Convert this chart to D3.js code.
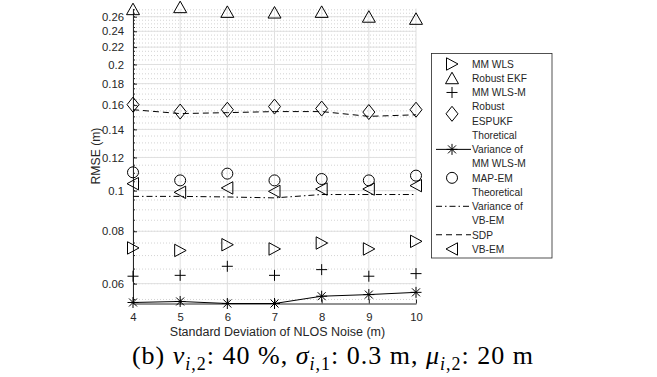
<!DOCTYPE html>
<html>
<head>
<meta charset="utf-8">
<script src="https://cdn.jsdelivr.net/npm/d3@7"></script>
<style>
  body { margin: 0; background: #fff; }
  text { font-family: "Liberation Sans", Arial, sans-serif; }
</style>
</head>
<body>
<div id="container"></div>
<script>
/* ---------- DATA ---------- */
const noiseStd = [4, 5, 6, 7, 8, 9, 10];
const mmWls = [0.0730, 0.0720, 0.0743, 0.0726, 0.0750, 0.0726, 0.0757];
const robustEkf = [0.271, 0.274, 0.267, 0.266, 0.267, 0.260, 0.257];
const mmWlsM = [0.0625, 0.0628, 0.0660, 0.0628, 0.0648, 0.0625, 0.0634];
const robustEspukf = [0.1604, 0.1544, 0.1560, 0.1587, 0.1570, 0.1540, 0.1560];
const theoMmWlsM = [0.0541, 0.0544, 0.0538, 0.0538, 0.0560, 0.0565, 0.0572];
const mapEm = [0.1106, 0.1058, 0.1098, 0.1058, 0.1066, 0.1058, 0.1086];
const theoVbEm = [0.0969, 0.0969, 0.0966, 0.0961, 0.0979, 0.0979, 0.0979];
const sdp = [0.1560, 0.1527, 0.1535, 0.1544, 0.1544, 0.1504, 0.1517];
const vbEm = [0.1039, 0.0991, 0.1015, 0.0996, 0.1009, 0.1009, 0.1028];

const yTicks = [0.06, 0.08, 0.1, 0.12, 0.14, 0.16, 0.18, 0.2, 0.22, 0.24, 0.26];
const xTicks = [4, 5, 6, 7, 8, 9, 10];

/* ---------- CONSTANTS ---------- */
const width = 657, height = 377;
const plot = { left: 133, right: 416, top: 8.5, bottom: 303.5 };
const axisColor = "#262626";

// series: legend label lines, marker, line style
const series = [
  { label: ["MM WLS"], values: mmWls, marker: "right", dash: null },
  { label: ["Robust EKF"], values: robustEkf, marker: "up", dash: null },
  { label: ["MM WLS-M"], values: mmWlsM, marker: "plus", dash: null },
  { label: ["Robust", "ESPUKF"], values: robustEspukf, marker: "diamond", dash: null },
  { label: ["Thoretical", "Variance of", "MM WLS-M"], values: theoMmWlsM, marker: "star", dash: "solid" },
  { label: ["MAP-EM"], values: mapEm, marker: "circle", dash: null },
  { label: ["Theoretical", "Variance of", "VB-EM"], values: theoVbEm, marker: null, dash: "6,3,1.5,3" },
  { label: ["SDP"], values: sdp, marker: null, dash: "6,4" },
  { label: ["VB-EM"], values: vbEm, marker: "left", dash: null }
];

/* ---------- MARKERS ---------- */
function markerPath(type) {
  switch (type) {
    case "up": return "M0,-6L6.5,5.5L-6.5,5.5Z";
    case "right": return "M-5.5,-6.2L6,0L-5.5,6.2Z";
    case "left": return "M5.5,-6.2L-6,0L5.5,6.2Z";
    case "plus": return "M-5.5,0H5.5M0,-5.5V5.5";
    case "diamond": return "M0,-7.5L6,0L0,7.5L-6,0Z";
    case "star": return "M-5.5,0H5.5M0,-5.5V5.5M-4,-4L4,4M-4,4L4,-4";
    case "circle": return "M5.5,0A5.5,5.5 0 1,1 -5.5,0A5.5,5.5 0 1,1 5.5,0Z";
  }
  return null;
}

/* ---------- SCALES ---------- */
const xScale = d3.scaleLinear().domain([4, 10]).range([plot.left, plot.right]);
const yScale = d3.scaleLog().domain([0.0538, 0.272]).range([plot.bottom, plot.top]);

const svg = d3.select("#container").append("svg")
  .attr("width", width)
  .attr("height", height);

/* ---------- GRID ---------- */
const minorTicks = d3.range(55, 275, 5).map(v => v / 1000);

svg.append("g")
  .selectAll("line")
  .data(minorTicks)
  .join("line")
  .attr("x1", plot.left).attr("x2", plot.right)
  .attr("y1", d => yScale(d)).attr("y2", d => yScale(d))
  .attr("stroke", "#c8c8c8")
  .attr("stroke-width", 0.8)
  .attr("stroke-dasharray", "1,2");

svg.append("g")
  .selectAll("line")
  .data(yTicks)
  .join("line")
  .attr("x1", plot.left).attr("x2", plot.right)
  .attr("y1", d => yScale(d)).attr("y2", d => yScale(d))
  .attr("stroke", "#e0e0e0")
  .attr("stroke-width", 1);

svg.append("g")
  .selectAll("line")
  .data(xTicks)
  .join("line")
  .attr("x1", d => xScale(d)).attr("x2", d => xScale(d))
  .attr("y1", plot.top).attr("y2", plot.bottom)
  .attr("stroke", "#e0e0e0")
  .attr("stroke-width", 1);

/* ---------- AXES ---------- */
const xAxis = d3.axisBottom(xScale)
  .tickValues(xTicks)
  .tickFormat(d3.format("d"))
  .tickSizeInner(-4)
  .tickSizeOuter(0)
  .tickPadding(9);

const yAxis = d3.axisLeft(yScale)
  .tickValues(yTicks)
  .tickFormat(d => String(d))
  .tickSizeInner(-4)
  .tickSizeOuter(0)
  .tickPadding(9);

const gx = svg.append("g")
  .attr("transform", `translate(0,${plot.bottom})`)
  .call(xAxis);

const gy = svg.append("g")
  .attr("transform", `translate(${plot.left},0)`)
  .call(yAxis);

// minor ticks on y axis
gy.append("g")
  .selectAll("line")
  .data(minorTicks)
  .join("line")
  .attr("x1", 0).attr("x2", 2)
  .attr("y1", d => yScale(d)).attr("y2", d => yScale(d))
  .attr("stroke", axisColor);

[gx, gy].forEach(g => {
  g.select(".domain").attr("stroke", axisColor).attr("stroke-width", 1);
  g.selectAll(".tick line").attr("stroke", axisColor);
  g.selectAll(".tick text")
    .attr("fill", axisColor)
    .style("font-size", "11.3px")
    .style("font-family", "Liberation Sans, Arial, sans-serif");
});

svg.append("text")
  .attr("x", (plot.left + plot.right) / 2 + 3)
  .attr("y", 336)
  .attr("text-anchor", "middle")
  .attr("fill", axisColor)
  .style("font-size", "12.5px")
  .text("Standard Deviation of NLOS Noise (m)");

svg.append("text")
  .attr("transform", `translate(100,${(plot.top + plot.bottom) / 2}) rotate(-90)`)
  .attr("text-anchor", "middle")
  .attr("fill", axisColor)
  .style("font-size", "12.2px")
  .text("RMSE (m)");

/* ---------- SERIES ---------- */
const line = d3.line()
  .x((d, i) => xScale(noiseStd[i]))
  .y(d => yScale(d));

series.filter(s => s.dash).forEach(s => {
  svg.append("path")
    .datum(s.values)
    .attr("d", line)
    .attr("fill", "none")
    .attr("stroke", "#000")
    .attr("stroke-width", 1)
    .attr("stroke-dasharray", s.dash === "solid" ? null : s.dash);
});

series.filter(s => s.marker).forEach(s => {
  svg.append("g")
    .selectAll("path")
    .data(s.values)
    .join("path")
    .attr("transform", (d, i) => `translate(${xScale(noiseStd[i])},${yScale(d)})`)
    .attr("d", markerPath(s.marker))
    .attr("fill", "none")
    .attr("stroke", "#000")
    .attr("stroke-width", 1);
});

/* ---------- LEGEND ---------- */
const legend = svg.append("g");
legend.append("rect")
  .attr("x", 431.5).attr("y", 53.5)
  .attr("width", 120.5).attr("height", 204.5)
  .attr("fill", "#fff")
  .attr("stroke", axisColor)
  .attr("stroke-width", 0.8);

const rowH = 14.23, firstRow = 64;
let lineIdx = 0;
series.forEach(s => {
  const cy = firstRow + (lineIdx + (s.label.length - 1) / 2) * rowH;
  if (s.dash) {
    legend.append("line")
      .attr("x1", 436).attr("x2", 471)
      .attr("y1", cy).attr("y2", cy)
      .attr("stroke", "#000")
      .attr("stroke-dasharray", s.dash === "solid" ? null : s.dash);
  }
  if (s.marker) {
    legend.append("path")
      .attr("transform", `translate(452,${cy})`)
      .attr("d", markerPath(s.marker))
      .attr("fill", "none")
      .attr("stroke", "#000");
  }
  s.label.forEach((t, k) => {
    legend.append("text")
      .attr("x", 472)
      .attr("y", firstRow + (lineIdx + k) * rowH + 3.8)
      .attr("fill", axisColor)
      .style("font-size", "10.2px")
      .text(t);
  });
  lineIdx += s.label.length;
});

/* ---------- CAPTION ---------- */
const cap = svg.append("text")
  .attr("x", 333)
  .attr("y", 364)
  .attr("text-anchor", "middle")
  .style("font-family", "Liberation Serif, Times New Roman, serif")
  .style("font-size", "26px")
  .style("letter-spacing", "1px")
  .attr("fill", "#000");

const parts = [
  ["(b) ", null], ["ν", "it"], ["i", "subit"], [",2", "sub"], [": 40 %, ", null],
  ["σ", "it"], ["i", "subit"], [",1", "sub"], [": 0.3 m, ", null],
  ["μ", "it"], ["i", "subit"], [",2", "sub"], [": 20 m", null]
];
let prevSub = false;
parts.forEach(([t, kind]) => {
  const sub = kind === "sub" || kind === "subit";
  const ts = cap.append("tspan").text(t);
  if (kind === "it" || kind === "subit") ts.style("font-style", "italic");
  if (sub) ts.style("font-size", "18px");
  if (sub && !prevSub) ts.attr("dy", 6);
  if (!sub && prevSub) ts.attr("dy", -6);
  prevSub = sub;
});
</script>
</body>
</html>
